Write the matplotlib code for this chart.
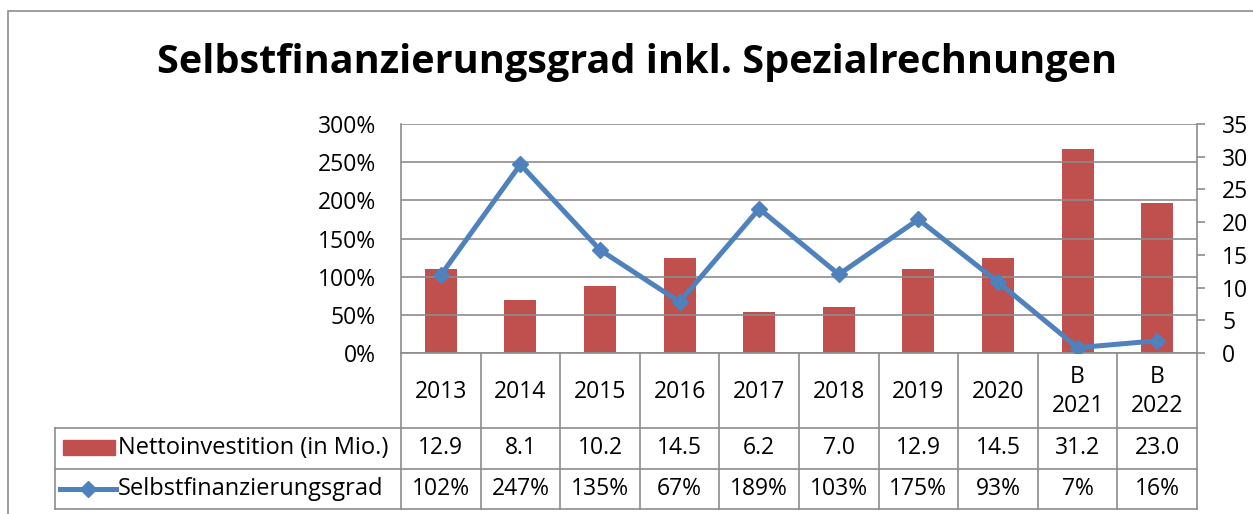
import numpy as np
import matplotlib
matplotlib.use('Agg')
import matplotlib.pyplot as plt
from matplotlib.ticker import FuncFormatter, MultipleLocator
from matplotlib.lines import Line2D
from matplotlib.patches import Rectangle

# data
categories = ['2013', '2014', '2015', '2016', '2017', '2018', '2019', '2020', 'B\n2021', 'B\n2022']
netto_invest = [12.9, 8.1, 10.2, 14.5, 6.2, 7.0, 12.9, 14.5, 31.2, 23.0]
selbstfin = [1.02, 2.47, 1.35, 0.67, 1.89, 1.03, 1.75, 0.93, 0.07, 0.16]

title = 'Selbstfinanzierungsgrad inkl. Spezialrechnungen'
bar_label = 'Nettoinvestition (in Mio.)'
line_label = 'Selbstfinanzierungsgrad'

BAR_C = '#C0504D'
LINE_C = '#4F81BD'
GRID_C = '#8C8C8C'
FONT = 'Open Sans'

W, H = 1253, 514
fig = plt.figure(figsize=(W / 100, H / 100), dpi=100)
plt.rcParams['font.family'] = [FONT, 'DejaVu Sans']


def fx(px):
    return px / W


def fy(py):
    return 1 - py / H


# outer chart border
fig.patches.append(Rectangle((fx(8), fy(520)), fx(1260) - fx(8), fy(11) - fy(520),
                             transform=fig.transFigure, fill=False,
                             edgecolor='#8C8C8C', lw=1.2))

fig.text(fx(637), fy(62), title, ha='center', va='center',
         fontsize=28.5, fontweight='bold')

# plot area
left, right, top, bottom = 401, 1197, 124, 353
ax = fig.add_axes([fx(left), fy(bottom), fx(right) - fx(left), fy(top) - fy(bottom)])
ax2 = ax.twinx()
n = len(categories)
x = np.arange(n)

ax2.bar(x, netto_invest, width=0.4, color=BAR_C, zorder=2)
ax2.set_ylim(0, 35)
ax2.yaxis.set_major_locator(MultipleLocator(5))

ax.set_zorder(ax2.get_zorder() + 1)
ax.patch.set_visible(False)
ax.plot(x, selbstfin, color=LINE_C, lw=3.6, marker='D', ms=8.5, zorder=3)
ax.set_ylim(0, 3)
ax.set_xlim(-0.5, n - 0.5)
ax.yaxis.set_major_locator(MultipleLocator(0.5))
ax.yaxis.set_major_formatter(FuncFormatter(lambda v, p: f'{v * 100:.0f}%'))
ax.grid(axis='y', color=GRID_C, lw=1.2)
ax.set_axisbelow(True)
ax.set_xticks([])
ax2.set_xticks([])

for a in (ax, ax2):
    for s in a.spines.values():
        s.set_visible(False)
ax2.spines['right'].set_visible(True)
ax2.spines['right'].set_color(GRID_C)
ax2.spines['right'].set_linewidth(1.2)
ax.spines['left'].set_visible(True)
ax.spines['left'].set_color(GRID_C)
ax.spines['left'].set_linewidth(1.2)
ax.spines['bottom'].set_visible(True)
ax.spines['bottom'].set_color(GRID_C)
ax.spines['bottom'].set_linewidth(1.2)

ax.tick_params(axis='y', length=0, pad=18, labelsize=16.5)
ax2.tick_params(axis='y', length=6, width=1.2, color=GRID_C, pad=12, labelsize=16.5)

# data table below the plot
tab_left = 55
col_w = (right - left) / n
rows_y = [bottom, 428, 469, 509]
lk = dict(color=GRID_C, lw=1.2, transform=fig.transFigure)

# grid lines of the table
for i in range(n + 1):
    xp = left + i * col_w
    fig.add_artist(Line2D([fx(xp), fx(xp)], [fy(rows_y[0]), fy(rows_y[3])], **lk))
fig.add_artist(Line2D([fx(tab_left), fx(tab_left)], [fy(rows_y[1]), fy(rows_y[3])], **lk))
for ry in rows_y[1:]:
    fig.add_artist(Line2D([fx(tab_left), fx(right)], [fy(ry), fy(ry)], **lk))

fs = 16.5
for i, cat in enumerate(categories):
    cx = left + (i + 0.5) * col_w
    fig.text(fx(cx), fy((rows_y[0] + rows_y[1]) / 2 + 1), cat, ha='center', va='center',
             fontsize=fs, linespacing=1.3)
    fig.text(fx(cx), fy((rows_y[1] + rows_y[2]) / 2), f'{netto_invest[i]:.1f}',
             ha='center', va='center', fontsize=fs)
    fig.text(fx(cx), fy((rows_y[2] + rows_y[3]) / 2), f'{selbstfin[i] * 100:.0f}%',
             ha='center', va='center', fontsize=fs)

# legend keys inside the table
fig.patches.append(Rectangle((fx(63), fy(455)), fx(115) - fx(63), fy(440) - fy(455),
                             transform=fig.transFigure, color=BAR_C))
fig.text(fx(118), fy(448), bar_label, ha='left', va='center', fontsize=17)
fig.add_artist(Line2D([fx(60), fx(116)], [fy(489), fy(489)], color=LINE_C, lw=3.6,
                      transform=fig.transFigure))
fig.add_artist(Line2D([fx(88)], [fy(489)], color=LINE_C, marker='D', ms=8.5,
                      transform=fig.transFigure))
fig.text(fx(118), fy(489), line_label, ha='left', va='center', fontsize=17)

fig.savefig('out.png', dpi=100)
